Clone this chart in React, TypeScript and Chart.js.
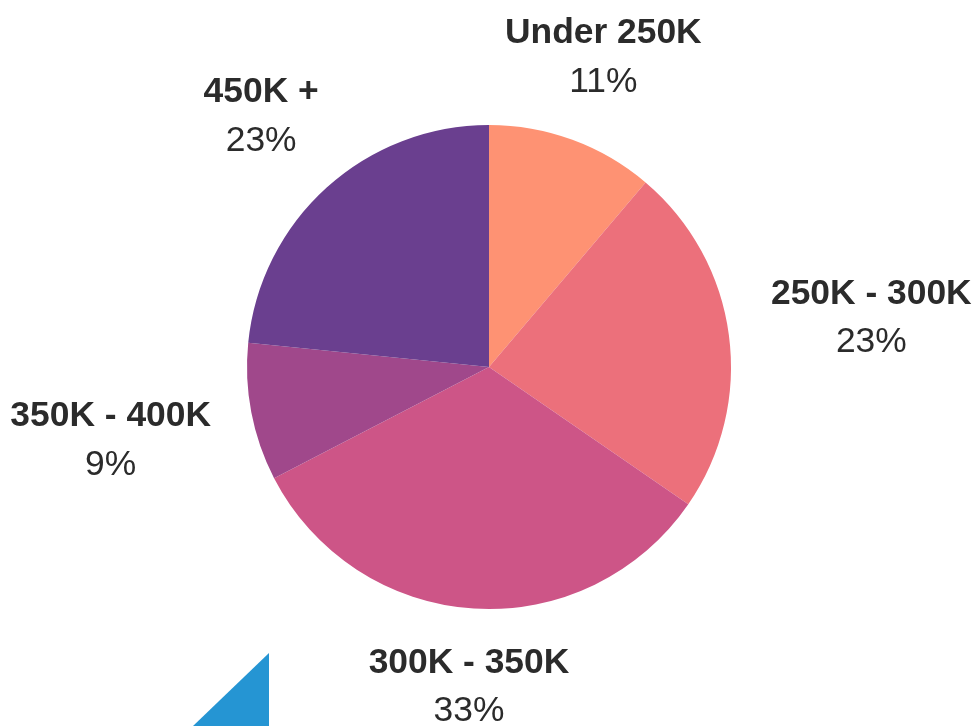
import React, { useEffect, useRef } from "react";
import { Chart, registerables } from "chart.js";

Chart.register(...registerables);

const categories: string[] = ["Under 250K", "250K - 300K", "300K - 350K", "350K - 400K", "450K +"];
const shares: number[] = [11.2, 23.4, 32.8, 9.2, 23.4];
const sliceColors: string[] = ["#fe9273", "#ec707b", "#cd5587", "#a0488b", "#6a3f8f"];

const labelPlugin = {
  id: "outerLabels",
  afterDatasetsDraw(chart: any) {
    const ctx = chart.ctx as CanvasRenderingContext2D;
    const meta = chart.getDatasetMeta(0);
    const total = shares.reduce((a, b) => a + b, 0);
    const boldFont = "bold 35.4px 'Liberation Sans', Arial, sans-serif";
    const regFont = "35.4px 'Liberation Sans', Arial, sans-serif";
    const hh = 36;
    ctx.save();
    ctx.fillStyle = "#2b2b2b";
    ctx.textAlign = "center";
    ctx.textBaseline = "alphabetic";
    meta.data.forEach((arc: any, i: number) => {
      const { x, y, startAngle, endAngle, outerRadius } = arc.getProps(
        ["x", "y", "startAngle", "endAngle", "outerRadius"],
        true
      );
      const mid = (startAngle + endAngle) / 2;
      const vx = Math.cos(mid);
      const vy = Math.sin(mid);
      const title = categories[i];
      const pct = Math.round((shares[i] / total) * 100) + "%";
      ctx.font = boldFont;
      const w1 = ctx.measureText(title).width;
      ctx.font = regFont;
      const w2 = ctx.measureText(pct).width;
      const hw = Math.max(w1, w2) / 2;
      const ex = Math.abs(vx) > 1e-6 ? hw / Math.abs(vx) : Infinity;
      const ey = Math.abs(vy) > 1e-6 ? hh / Math.abs(vy) : Infinity;
      const pad = 41 + 11 * Math.max(0, -vy);
      const d = outerRadius + pad + Math.min(ex, ey);
      const cx = x + vx * d;
      const cy = y + vy * d;
      ctx.font = boldFont;
      ctx.fillText(title, cx, cy - 12.7);
      ctx.font = regFont;
      ctx.fillText(pct, cx, cy + 36);
    });
    ctx.restore();
  },
};

export default function App() {
  const canvasRef = useRef<HTMLCanvasElement | null>(null);

  useEffect(() => {
    if (!canvasRef.current) return;
    const chart = new Chart(canvasRef.current, {
      type: "pie",
      data: {
        labels: categories,
        datasets: [
          {
            data: shares,
            backgroundColor: sliceColors,
            borderWidth: 0,
            hoverOffset: 0,
          },
        ],
      },
      options: {
        responsive: false,
        animation: false,
        devicePixelRatio: 1,
        layout: { padding: { left: 247, right: 246, top: 125, bottom: 117 } },
        plugins: {
          legend: { display: false },
          tooltip: { enabled: false },
        },
        events: [],
      },
      plugins: [labelPlugin],
    });
    return () => chart.destroy();
  }, []);

  return (
    <div style={{ position: "fixed", left: 0, top: 0, width: 977, height: 726, background: "#ffffff", overflow: "hidden" }}>
      <canvas ref={canvasRef} width={977} height={726} style={{ position: "absolute", left: 0, top: 0 }} />
      <div
        style={{
          position: "absolute",
          left: 193,
          top: 653,
          width: 76,
          height: 73,
          background: "#2595d3",
          clipPath: "polygon(100% 0, 100% 100%, 0 100%)",
        }}
      />
    </div>
  );
}
